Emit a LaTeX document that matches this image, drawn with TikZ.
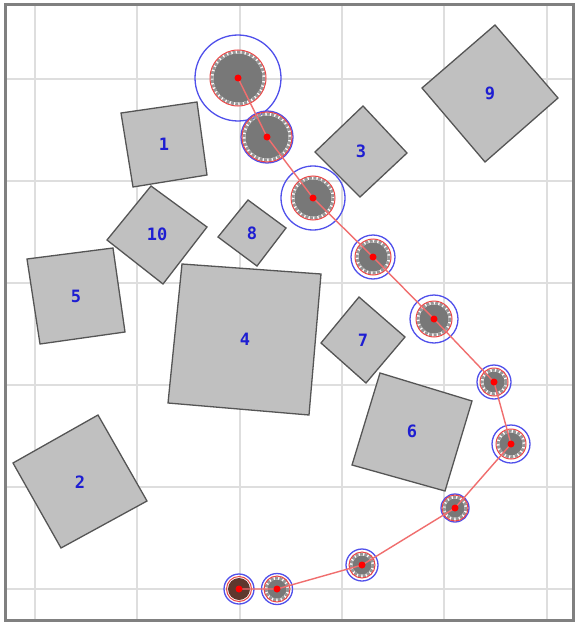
\documentclass[tikz,border=0pt]{standalone}
\usepackage{fontspec}
\newfontfamily\lblfont{DejaVu Sans Mono}
\definecolor{gridc}{RGB}{222,222,222}
\definecolor{framec}{RGB}{128,128,128}
\definecolor{sqfill}{RGB}{192,192,192}
\definecolor{sqedge}{RGB}{85,85,85}
\definecolor{lblc}{RGB}{30,30,210}
\definecolor{ringblue}{RGB}{80,80,235}
\definecolor{ringred}{RGB}{235,70,70}
\definecolor{pathred}{RGB}{240,110,110}
\definecolor{blobc}{RGB}{120,120,120}
\definecolor{toothc}{RGB}{150,150,150}
\definecolor{darkblob}{RGB}{95,55,45}
\tikzset{
  sq/.style={fill=sqfill,draw=sqedge,line width=1.3pt,line join=miter},
  lbl/.style={text=lblc,font=\lblfont\bfseries\fontsize{17}{17}\selectfont,inner sep=0pt},
}
\newcommand{\robot}[5]{% name, x, y, blue r, red r
  \coordinate (#1) at (#2,#3);
  \draw[ringblue,line width=1.3pt] (#1) circle[radius=#4];
  \fill[blobc] (#1) circle[radius=#5-3.5];
  \draw[toothc,line width=3pt,dash pattern=on 3pt off 1.5pt] (#1) circle[radius=#5-2];
  \draw[ringred,line width=1pt] (#1) circle[radius=#5];
}
\begin{document}
\begin{tikzpicture}[x=1pt,y=-1pt]
\useasboundingbox (0,0) rectangle (576,623);
\fill[white] (0,0) rectangle (576,623);
% grid
\foreach \x in {35,137,240,342,444,547} \draw[gridc,line width=1.6pt] (\x,5) -- (\x,620);
\foreach \y in {79,181,283,385,487,589} \draw[gridc,line width=1.6pt] (5,\y) -- (573,\y);
\draw[framec,line width=3pt] (5,5) rectangle (573,620);
% squares
\draw[sq] (121,113) -- (197,102) -- (207,175) -- (133,187) -- cycle;
\node[lbl] (s1) at (164,144) {1};
\draw[sq] (98,415) -- (147,501) -- (61,548) -- (13,463) -- cycle;
\node[lbl] (s2) at (80,482) {2};
\draw[sq] (363,106) -- (407,153) -- (360,197) -- (315,152) -- cycle;
\node[lbl] (s3) at (361,151) {3};
\draw[sq] (182,264) -- (321,274) -- (309,415) -- (168,403) -- cycle;
\node[lbl] (s4) at (245,339) {4};
\draw[sq] (27,259) -- (113,248) -- (125,332) -- (40,344) -- cycle;
\node[lbl] (s5) at (76,296) {5};
\draw[sq] (380,373) -- (472,401) -- (445,491) -- (352,465) -- cycle;
\node[lbl] (s6) at (412,431) {6};
\draw[sq] (359,297) -- (405,337) -- (366,383) -- (321,343) -- cycle;
\node[lbl] (s7) at (363,340) {7};
\draw[sq] (248,200) -- (286,228) -- (257,266) -- (218,237) -- cycle;
\node[lbl] (s8) at (252,233) {8};
\draw[sq] (495,25) -- (558,98) -- (485,162) -- (422,88) -- cycle;
\node[lbl] (s9) at (490,93) {9};
\draw[sq] (151,186) -- (207,227) -- (163,284) -- (107,240) -- cycle;
\node[lbl] (s10) at (157,234) {10};
% robots
\robot{c1}{238}{78}{43}{28}
\robot{c2}{267}{137}{26}{25}
\robot{c3}{313}{198}{32}{22}
\robot{c4}{373}{257}{22}{18}
\robot{c5}{434}{319}{24}{18}
\robot{c6}{494}{382}{17}{14}
\robot{c7}{511}{444}{19}{15}
\robot{c8}{455}{508}{14}{13}
\robot{c9}{362}{565}{16}{13}
\robot{c10}{277}{589}{15.5}{13}
\coordinate (c11) at (239,589);
\draw[ringblue,line width=1.3pt] (c11) circle[radius=15];
\fill[darkblob] (c11) circle[radius=11];
\draw[ringred,line width=1pt] (c11) circle[radius=12.5];
% path
\draw[pathred,line width=1.4pt] (c1) -- (c2) -- (c3) -- (c4) -- (c5) -- (c6) -- (c7) -- (c8) -- (c9) -- (c10) -- (c11);
\foreach \c in {c1,c2,c3,c4,c5,c6,c7,c8,c9,c10,c11} \fill[red] (\c) circle[radius=3.5];
\end{tikzpicture}
\end{document}
